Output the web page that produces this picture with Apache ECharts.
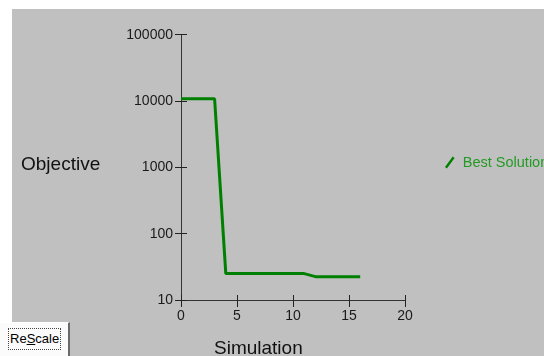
<!DOCTYPE html>
<html>
<head>
<meta charset="utf-8">
<script src="https://cdn.jsdelivr.net/npm/echarts@6/dist/echarts.min.js"></script>
<style>
  html, body { margin: 0; padding: 0; background: #fff; width: 544px; height: 356px; overflow: hidden; position: relative; }
  #main { position: absolute; left: 12px; top: 9px; width: 532px; height: 347px; background: #c0c0c0; }
  .rescale {
    position: absolute; left: -4px; top: 322px; width: 74px; height: 40px;
    background: #fbfbfb; border-top: 1px solid #fff; border-right: 2px solid #6a6a6a;
    box-sizing: border-box; overflow: hidden;
    font-family: "Liberation Sans", Arial, sans-serif; font-size: 13px; color: #000;
  }
  .rescale span {
    position: absolute; left: 12px; top: 5px; padding: 2px 1px; border: 1px dotted #444; line-height: 16px;
  }
</style>
</head>
<body>
<div id="main"></div>
<div class="rescale"><span>Re<u>S</u>cale</span></div>
<script>
  // simulation number vs best objective found so far
  var simulations = [0, 1, 2, 3, 4, 5, 6, 7, 8, 9, 10, 11, 12, 13, 14, 15, 16];
  var objective = [10800, 10800, 10800, 10800, 25, 25, 25, 25, 25, 25, 25, 25, 22.5, 22.5, 22.5, 22.5, 22.5];
  var xTicks = [0, 5, 10, 15, 20];
  var yTicks = [10, 100, 1000, 10000, 100000];

  var points = simulations.map(function (s, i) { return [s, objective[i]]; });
  var font = '"Liberation Sans", Arial, sans-serif';

  var myChart = echarts.init(document.getElementById('main'));
  var option = {
    animation: false,
    textStyle: { fontFamily: font },
    grid: { left: 169, top: 25.7, width: 224, height: 265.3 },
    legend: {
      left: 433, top: 146, padding: 0,
      itemWidth: 10, itemHeight: 12, itemGap: 6,
      icon: 'path://M0,11 L8,0 L10,1.5 L2,12.5 Z',
      textStyle: { color: '#239a23', fontSize: 14.5, fontFamily: font, padding: [0, 0, 0, 3] },
      data: ['Best Solution']
    },
    xAxis: [{
      type: 'value', min: xTicks[0], max: xTicks[xTicks.length - 1], interval: 5,
      axisLine: { onZero: false, lineStyle: { color: '#333', width: 1 } },
      axisTick: { length: 7, lineStyle: { color: '#222' } },
      axisLabel: { color: '#1a1a1a', fontSize: 14, margin: 9 },
      splitLine: { show: false }
    }, {
      type: 'value', min: xTicks[0], max: xTicks[xTicks.length - 1], interval: 5, position: 'bottom',
      axisLine: { show: false },
      axisTick: { inside: true, length: 5, lineStyle: { color: '#222' } },
      axisLabel: { show: false },
      splitLine: { show: false }
    }],
    yAxis: [{
      type: 'log', logBase: 10, min: yTicks[0], max: yTicks[yTicks.length - 1],
      axisLine: { show: true, onZero: false, lineStyle: { color: '#333', width: 1 } },
      axisTick: { show: true, length: 6, lineStyle: { color: '#222' } },
      axisLabel: { color: '#1a1a1a', fontSize: 14, margin: 8, formatter: function (v) { return String(v); } },
      splitLine: { show: false }
    }, {
      type: 'log', logBase: 10, min: yTicks[0], max: yTicks[yTicks.length - 1], position: 'left',
      axisLine: { show: false },
      axisTick: { show: true, inside: true, length: 6, lineStyle: { color: '#222' } },
      axisLabel: { show: false },
      splitLine: { show: false }
    }],
    graphic: [
      { type: 'text', left: 9, top: 146, style: { text: 'Objective', fill: '#111', font: '19px ' + font } },
      { type: 'text', left: 202, top: 330, style: { text: 'Simulation', fill: '#111', font: '19px ' + font } }
    ],
    series: [{
      name: 'Best Solution',
      type: 'line',
      data: points,
      showSymbol: false,
      itemStyle: { color: '#008000' },
      lineStyle: { color: '#008000', width: 3 }
    }]
  };
  myChart.setOption(option);
</script>
</body>
</html>
